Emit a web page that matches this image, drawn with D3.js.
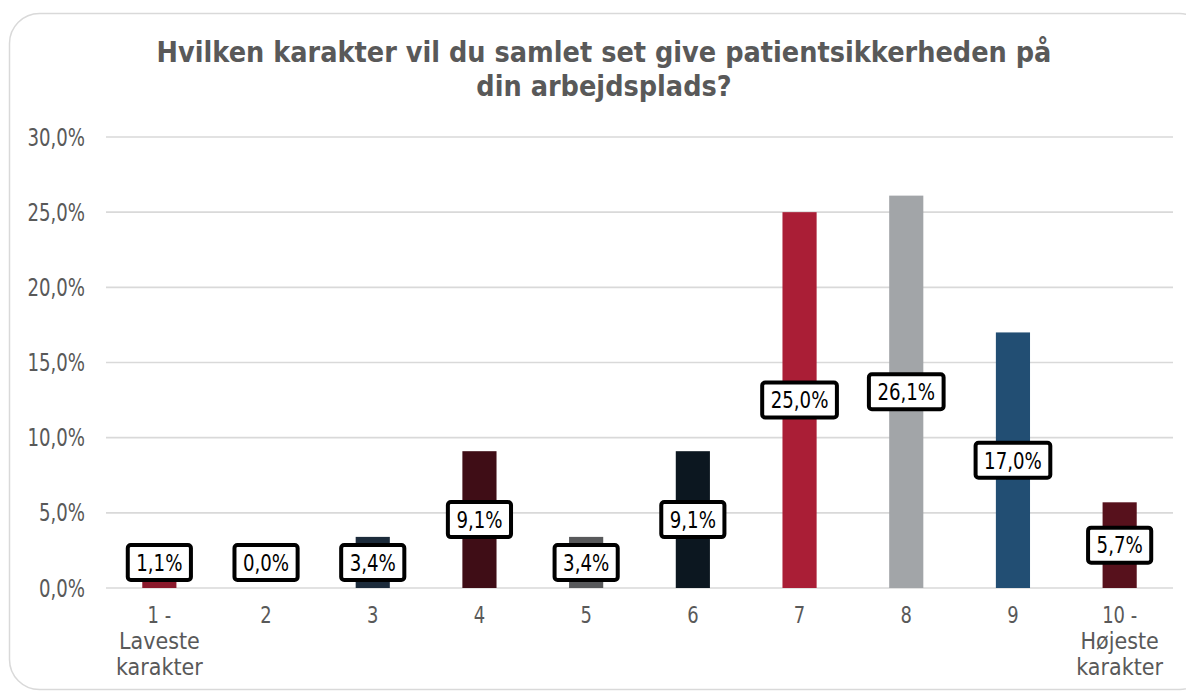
<!DOCTYPE html>
<html>
<head>
<meta charset="utf-8">
<script src="https://cdn.jsdelivr.net/npm/d3@7/dist/d3.min.js"></script>
<style>
  html, body { margin: 0; padding: 0; background: #ffffff; }
  svg { display: block; }
</style>
</head>
<body>
<svg id="chart" width="1186" height="692"></svg>
<script>
// Survey answers: grade given to patient safety at the workplace (share of respondents, %)
const titleLines = ["Hvilken karakter vil du samlet set give patientsikkerheden på", "din arbejdsplads?"];
const categories = ["1 - Laveste karakter", "2", "3", "4", "5", "6", "7", "8", "9", "10 - Højeste karakter"];
const categoryLines = [["1 -", "Laveste", "karakter"], ["2"], ["3"], ["4"], ["5"], ["6"], ["7"], ["8"], ["9"], ["10 -", "Højeste", "karakter"]];
const values = [1.1, 0.0, 3.4, 9.1, 3.4, 9.1, 25.0, 26.1, 17.0, 5.7];
const barColors = ["#8a1a2c", "#2b2b2b", "#1c2b3b", "#3f0d16", "#58595b", "#0c1720", "#aa1e36", "#a2a5a8", "#224e73", "#57111c"];
const yTicks = [0, 5, 10, 15, 20, 25, 30];

const fmt = v => d3.format(".1f")(v).replace(".", ",") + "%";
const FONT = "'DejaVu Sans', Verdana, sans-serif";
const GREY_TEXT = "#595959";

const svg = d3.select("#chart");

// Card with rounded corners
svg.append("rect")
  .attr("x", 9.5).attr("y", 13.5)
  .attr("width", 1200).attr("height", 676)
  .attr("rx", 30).attr("ry", 30)
  .attr("fill", "#ffffff")
  .attr("stroke", "#d9d9d9").attr("stroke-width", 1.5);

const x = d3.scaleBand()
  .domain(categories)
  .range([106, 1173])
  .paddingInner(0.68)
  .paddingOuter(0.34);

const y = d3.scaleLinear().domain([0, 30]).range([588, 137]);

// helper: text compressed horizontally around its anchor point
function squeezedText(sel, px, py, sx) {
  return sel.attr("transform", `translate(${px},${py}) scale(${sx},1)`);
}

// Title
const titleG = svg.append("g");
titleLines.forEach((line, i) => {
  const t = titleG.append("text")
    .attr("text-anchor", "middle")
    .attr("font-family", FONT)
    .attr("font-weight", "bold")
    .attr("font-size", 29)
    .attr("fill", GREY_TEXT)
    .text(line);
  squeezedText(t, 604, 62 + i * 34, 0.8);
});
// fit the first title line to its width
const first = titleG.select("text").node();
const natural = first.getComputedTextLength();
const titleSx = 895 / natural;
titleG.selectAll("text").each(function(d, i) {
  d3.select(this).attr("transform", `translate(604,${62 + i * 34}) scale(${titleSx},1)`);
});

// Gridlines
svg.append("g")
  .selectAll("line")
  .data(yTicks)
  .join("line")
  .attr("x1", 106).attr("x2", 1173)
  .attr("y1", d => y(d)).attr("y2", d => y(d))
  .attr("stroke", "#d9d9d9")
  .attr("stroke-width", 1.6);

// Y axis labels
svg.append("g")
  .selectAll("text")
  .data(yTicks)
  .join("text")
  .attr("text-anchor", "end")
  .attr("font-family", FONT)
  .attr("font-size", 24)
  .attr("fill", GREY_TEXT)
  .attr("dy", "0.36em")
  .text(d => fmt(d))
  .attr("transform", d => `translate(85,${y(d)}) scale(0.755,1)`);

// Bars
const data = categories.map((c, i) => ({ cat: c, value: values[i], color: barColors[i], lines: categoryLines[i] }));

svg.append("g")
  .selectAll("rect")
  .data(data.filter(d => d.value > 0))
  .join("rect")
  .attr("x", d => x(d.cat))
  .attr("width", x.bandwidth())
  .attr("y", d => y(d.value))
  .attr("height", d => y(0) - y(d.value))
  .attr("fill", d => d.color);

// Category labels
const catG = svg.append("g");
data.forEach(d => {
  const cx = x(d.cat) + x.bandwidth() / 2;
  d.lines.forEach((ln, j) => {
    const t = catG.append("text")
      .attr("text-anchor", "middle")
      .attr("font-family", FONT)
      .attr("font-size", 23)
      .attr("fill", GREY_TEXT)
      .text(ln);
    squeezedText(t, cx, 623 + j * 26, /^[0-9 \-]+$/.test(ln) ? 0.78 : 0.9);
  });
});

// Value labels in boxed callouts, centred on the bar and kept above the axis
const labelG = svg.append("g");
const LABEL_SX = 0.79;
const boxH = 35;
data.forEach(d => {
  const cx = x(d.cat) + x.bandwidth() / 2;
  const mid = (y(0) + y(d.value)) / 2;
  const cy = Math.min(mid, y(0) - 25.5);
  const g = labelG.append("g");
  const rect = g.append("rect");
  const t = g.append("text")
    .attr("text-anchor", "middle")
    .attr("font-family", FONT)
    .attr("font-size", 23)
    .attr("fill", "#000000")
    .attr("dy", "0.36em")
    .text(fmt(d.value));
  squeezedText(t, cx, cy, LABEL_SX);
  const w = t.node().getComputedTextLength() * LABEL_SX + 17;
  rect.attr("x", cx - w / 2).attr("y", cy - boxH / 2)
    .attr("width", w).attr("height", boxH)
    .attr("rx", 3).attr("ry", 3)
    .attr("fill", "#ffffff")
    .attr("stroke", "#000000")
    .attr("stroke-width", 4);
});
</script>
</body>
</html>
